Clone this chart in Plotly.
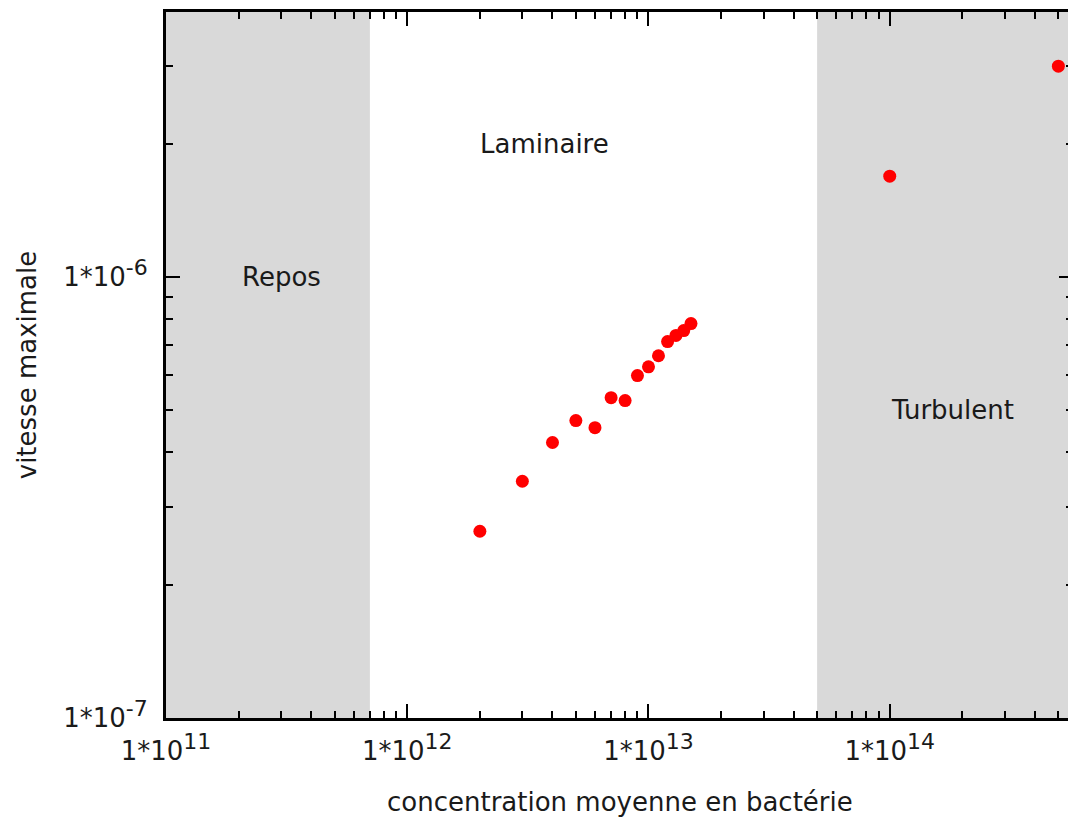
import math
import plotly.graph_objects as go

# data
concentration = [2e12, 3e12, 4e12, 5e12, 6e12, 7e12, 8e12, 9e12, 1.0e13, 1.1e13,
                 1.2e13, 1.3e13, 1.4e13, 1.5e13, 1e14, 5e14]
vitesse = [2.65e-7, 3.44e-7, 4.21e-7, 4.72e-7, 4.55e-7, 5.32e-7, 5.24e-7, 5.97e-7,
           6.25e-7, 6.62e-7, 7.13e-7, 7.36e-7, 7.55e-7, 7.83e-7, 1.69e-6, 3.0e-6]

# regimes (shaded areas) and labels
regions = [(1e11, 7e11), (5e13, 1e16)]
region_labels = ["Repos", "Laminaire", "Turbulent"]
label_x = [3e11, 3.7e12, 1.82e14]
label_y = [1e-6, 2e-6, 5e-7]

x_title = "concentration moyenne en bactérie"
y_title = "vitesse maximale"

SUP = "<sup><span style='font-size:22px'>%s</span></sup>"
x_ticks = [1e11, 1e12, 1e13, 1e14]
x_ticktext = ["1*10" + SUP % e for e in ["11", "12", "13", "14"]]
y_ticks = [1e-7, 1e-6]
y_ticktext = ["1*10" + SUP % e for e in ["-7", "-6"]]

x_range = [1e11, 5.75e14]
y_range = [1e-7, 3.98e-6]

x_minor = [m * 10 ** e for e in range(11, 15) for m in range(2, 10)]
y_minor = [m * 10 ** e for e in (-7, -6) for m in range(2, 10)]

FONT = "DejaVu Sans"
TXT = "#1a1a1a"

fig = go.Figure()
fig.add_trace(go.Scatter(
    x=concentration, y=vitesse, mode="markers",
    marker=dict(color="#ff0000", size=13, line=dict(width=0)),
    showlegend=False, hoverinfo="x+y",
))

shapes = []
for x0, x1 in regions:
    shapes.append(dict(type="rect", xref="x", yref="paper", x0=x0, x1=x1, y0=0, y1=1,
                       fillcolor="#d9d9d9", line=dict(width=0), layer="below"))

annotations = []
for t, xx, yy in zip(region_labels, label_x, label_y):
    annotations.append(dict(x=math.log10(xx), y=math.log10(yy), xref="x", yref="y",
                            text=t, showarrow=False,
                            font=dict(family=FONT, size=26, color=TXT)))
# x axis title, placed under the tick labels
annotations.append(dict(x=0.5, y=0, xref="paper", yref="paper", yshift=-84,
                        yanchor="middle", xanchor="center", text=x_title,
                        showarrow=False, font=dict(family=FONT, size=26, color=TXT)))

axis_common = dict(
    showline=True, linecolor="black", linewidth=3, mirror="ticks",
    ticks="inside", ticklen=14, tickwidth=2, tickcolor="black",
    showgrid=False, zeroline=False,
    tickfont=dict(family=FONT, size=26, color=TXT),
)

# the page body has an 8px margin: the figure is sized to fill the rest of the window
fig.update_layout(
    width=1068, height=813,
    margin=dict(l=158, r=0, t=4, b=103),
    paper_bgcolor="white", plot_bgcolor="white",
    shapes=shapes, annotations=annotations,
    xaxis=dict(type="log", range=[math.log10(v) for v in x_range],
               tickmode="array", tickvals=x_ticks, ticktext=x_ticktext,
               ticklabelstandoff=8,
               minor=dict(tickmode="array", tickvals=x_minor, ticks="inside",
                          ticklen=7, tickwidth=2, tickcolor="black", showgrid=False),
               **axis_common),
    yaxis=dict(type="log", range=[math.log10(v) for v in y_range],
               tickmode="array", tickvals=y_ticks, ticktext=y_ticktext,
               ticklabelstandoff=10,
               minor=dict(tickmode="array", tickvals=y_minor, ticks="inside",
                          ticklen=7, tickwidth=2, tickcolor="black", showgrid=False),
               title=dict(text=y_title,
                          font=dict(family=FONT, size=26, color=TXT), standoff=20),
               **axis_common),
)

fig.write_html("out.html")
